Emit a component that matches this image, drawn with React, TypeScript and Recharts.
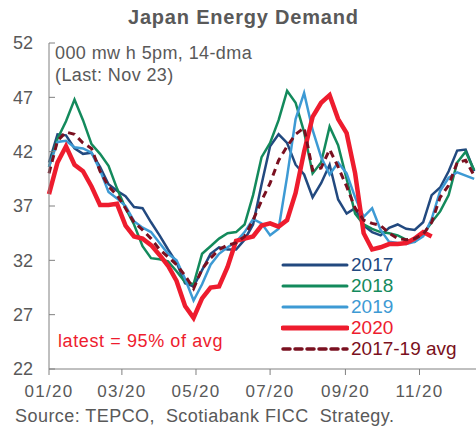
import { LineChart, Line, XAxis, YAxis, Legend } from "recharts";

// day of year, weekly samples of the 14-dma
const days = [
  0, 7, 14, 21, 28, 35, 42, 49, 56, 63, 70, 77, 84, 91, 98, 105, 112, 119, 126, 133,
  140, 147, 154, 161, 168, 175, 182, 189, 196, 203, 210, 217, 224, 231, 238, 245, 252,
  259, 266, 273, 280, 287, 294, 301, 308, 315, 322, 329, 336, 343, 350,
];

const s2017 = [
  41.0, 43.6, 43.5, 42.3, 41.8, 41.9, 40.6, 39.0, 38.4, 37.9, 36.9, 36.8, 35.5, 34.3, 33.0,
  31.8, 29.9, 29.6, 31.1, 32.6, 33.2, 33.0, 33.0, 33.9, 35.3, 39.0, 42.5, 43.6, 42.8, 40.8,
  39.9, 37.8, 39.1, 40.8, 37.6, 36.3, 36.8, 35.2, 34.6, 34.3, 35.0, 35.3, 34.9, 34.8, 35.5,
  38.0, 38.7, 40.2, 42.1, 42.2, 40.2,
];

const s2018 = [
  40.6, 43.2, 44.8, 46.8, 44.9, 42.7, 41.8, 40.7, 38.6, 36.8, 35.3, 33.3, 32.2, 32.1, 31.9,
  31.0, 30.0, 29.8, 32.6, 33.3, 34.0, 34.5, 34.6, 35.3, 38.0, 41.5, 42.8, 44.9, 47.6, 46.5,
  43.8, 40.0, 41.0, 44.3, 42.6, 39.5, 36.3, 35.3, 34.9, 34.6, 34.5, 34.3, 33.9, 33.7, 34.4,
  35.5, 36.5, 38.0, 41.0, 42.0, 40.3,
];

const s2019 = [
  40.6, 42.9, 43.0, 42.4, 42.3, 41.9, 40.3, 38.3, 37.7, 37.0, 35.6, 35.0, 34.6, 33.6, 32.6,
  32.0, 30.3, 28.3, 29.8, 31.6, 32.6, 33.2, 33.7, 34.6, 35.8, 35.4, 34.3, 34.9, 39.7, 45.0,
  47.4, 44.0, 41.5, 39.9, 41.0, 40.0, 37.8, 36.0, 36.8, 34.8, 33.7, 33.6, 33.5, 33.7, 34.2,
  35.8, 38.4, 39.6, 40.1, 39.8, 39.5,
];

const s2020 = [
  38.1, 41.0, 42.5, 40.8, 40.2, 38.8, 37.1, 37.1, 37.2, 35.2, 34.2, 34.0, 33.4, 32.5, 31.5,
  30.1, 27.8, 26.7, 28.5, 29.5, 29.6, 31.4, 33.8, 34.0, 34.2, 35.2, 35.4, 35.1, 35.7, 38.2,
  42.0, 45.2, 46.5, 47.2, 45.0, 43.7, 40.0, 34.5, 33.0, 33.2, 33.5, 33.5, 33.6, 34.0, 34.6,
  34.2,
];

const sAvg = [
  40.0, 43.0, 43.8, 43.6, 42.8, 42.3, 40.2, 38.8, 38.0, 36.8, 35.5, 34.8, 34.0, 33.0, 32.3,
  31.6, 30.6, 29.4, 31.2, 32.2, 33.0, 33.4, 33.6, 34.2, 35.7, 37.5, 39.1, 41.2, 42.5, 43.6,
  44.2, 40.3, 40.5, 42.2, 40.6, 38.8, 36.8, 35.7, 35.4, 35.2, 34.5, 34.0, 33.9, 34.0, 34.4,
  35.5, 37.8, 38.9, 41.0, 41.2, 39.8,
];

const tickDays = [0, 60, 121, 182, 244, 305];
const tickLabels = ["01/20", "03/20", "05/20", "07/20", "09/20", "11/20"];
const yTicks = [22, 27, 32, 37, 42, 47, 52];

const series = [
  { key: "y2017", name: "2017", color: "#22497f", width: 2.5, dash: undefined },
  { key: "y2018", name: "2018", color: "#138a5c", width: 2.5, dash: undefined },
  { key: "y2019", name: "2019", color: "#3d9ad4", width: 2.5, dash: undefined },
  { key: "y2020", name: "2020", color: "#ee1c2e", width: 4.5, dash: undefined },
  { key: "avg", name: "2017-19 avg", color: "#7a1020", width: 3, dash: "7 5" },
];

const data = days.map((d, i) => ({
  day: d,
  y2017: s2017[i],
  y2018: s2018[i],
  y2019: s2019[i],
  y2020: s2020[i] ?? null,
  avg: sAvg[i],
}));

const font = '"Liberation Sans", Arial, sans-serif';
const grey = "#595959";

function LegendBox() {
  return (
    <div style={{ fontFamily: font }}>
      {series.map((s) => (
        <div key={s.key} style={{ display: "flex", alignItems: "center", height: 21 }}>
          <svg width={68} height={10}>
            <line
              x1={2}
              x2={66}
              y1={5}
              y2={5}
              stroke={s.color}
              strokeWidth={s.width + 0.5}
              strokeDasharray={s.dash}
              strokeLinecap="round"
            />
          </svg>
          <span style={{ color: s.color, fontSize: 19, marginLeft: 2, lineHeight: "21px" }}>{s.name}</span>
        </div>
      ))}
    </div>
  );
}

export default function App() {
  return (
    <div style={{ position: "absolute", left: 0, top: 0, width: 476, height: 427, fontFamily: font }}>
      <LineChart width={476} height={427} data={data} margin={{ top: 43, right: 0, left: 0, bottom: 0 }}>
        <XAxis
          dataKey="day"
          type="number"
          domain={[0, 351.5]}
          ticks={tickDays}
          tickFormatter={(d) => tickLabels[tickDays.indexOf(d)]}
          height={58}
          stroke="#808080"
          tickSize={6}
          tickMargin={10}
          tick={{ fill: grey, fontSize: 17, fontFamily: font, letterSpacing: 1.3 }}
        />
        <YAxis
          domain={[22, 52]}
          ticks={yTicks}
          width={49}
          stroke="#808080"
          tickSize={-6}
          tickMargin={22}
          tick={{ fill: grey, fontSize: 18, fontFamily: font }}
        />
        <Legend
          layout="vertical"
          align="center"
          verticalAlign="middle"
          wrapperStyle={{ left: 281, top: 254, width: 190, height: 110 }}
          content={() => <LegendBox />}
        />
        {series.map((s) => (
          <Line
            key={s.key}
            dataKey={s.key}
            name={s.name}
            stroke={s.color}
            strokeWidth={s.width}
            strokeDasharray={s.dash}
            dot={false}
            type="linear"
            connectNulls={false}
            isAnimationActive={false}
          />
        ))}
      </LineChart>
      <div style={{ position: "absolute", left: 128, top: 6, fontSize: 20, fontWeight: "bold", color: grey, letterSpacing: 0.8, whiteSpace: "pre" }}>
        Japan Energy Demand
      </div>
      <div style={{ position: "absolute", left: 55, top: 42, fontSize: 18, color: grey, lineHeight: "22px", letterSpacing: 0.4 }}>
        000 mw h 5pm, 14-dma
        <br />
        (Last: Nov 23)
      </div>
      <div style={{ position: "absolute", left: 58, top: 331, fontSize: 18, color: "#ee1c2e", letterSpacing: 0.6 }}>
        latest = 95% of avg
      </div>
      <div style={{ position: "absolute", left: 15, top: 406, fontSize: 18, color: grey, whiteSpace: "pre", letterSpacing: 0.45 }}>
        Source: TEPCO,  Scotiabank FICC  Strategy.
      </div>
    </div>
  );
}
